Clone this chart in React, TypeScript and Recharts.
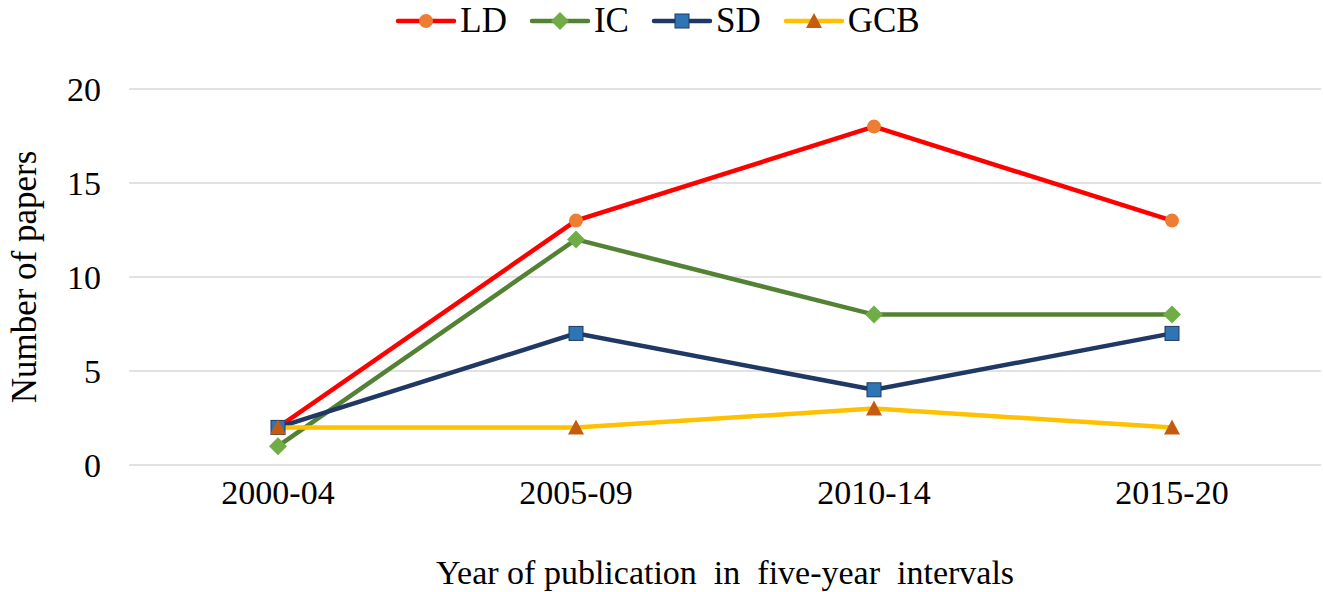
import React from "react";
import { LineChart, Line, XAxis, YAxis, CartesianGrid } from "recharts";

const periods = ["2000-04", "2005-09", "2010-14", "2015-20"];
const ld = [2, 13, 18, 13];
const ic = [1, 12, 8, 8];
const sd = [2, 7, 4, 7];
const gcb = [2, 2, 3, 2];
const yTicks = [0, 5, 10, 15, 20];

const series = [
  { key: "LD", values: ld, stroke: "#FF0000", fill: "#ED7D31", shape: "circle" },
  { key: "IC", values: ic, stroke: "#548235", fill: "#70AD47", shape: "diamond" },
  { key: "SD", values: sd, stroke: "#1F3864", fill: "#2E75B6", shape: "square" },
  { key: "GCB", values: gcb, stroke: "#FFC000", fill: "#C55A11", shape: "triangle" },
];

const data = periods.map((p, i) => {
  const row: Record<string, string | number> = { period: p };
  series.forEach((s) => (row[s.key] = s.values[i]));
  return row;
});

const FONT = '"Liberation Serif", "Times New Roman", serif';

function Marker({ cx, cy, shape, fill, stroke }: { cx: number; cy: number; shape: string; fill: string; stroke?: string }) {
  if (cx == null || cy == null) return null;
  if (shape === "circle") return <circle cx={cx} cy={cy} r={7} fill={fill} />;
  if (shape === "diamond")
    return <polygon points={`${cx},${cy - 9} ${cx + 9},${cy} ${cx},${cy + 9} ${cx - 9},${cy}`} fill={fill} />;
  if (shape === "square")
    return <rect x={cx - 7} y={cy - 7} width={14} height={14} fill={fill} stroke={stroke} strokeWidth={1} />;
  return <polygon points={`${cx},${cy - 8} ${cx + 8},${cy + 7} ${cx - 8},${cy + 7}`} fill={fill} />;
}

export default function App() {
  return (
    <div style={{ position: "absolute", left: 0, top: 0, width: 1323, height: 592, background: "#fff", fontFamily: FONT }}>
      <div
        style={{
          position: "absolute",
          top: 1,
          left: 0,
          width: 1323,
          display: "flex",
          justifyContent: "center",
          alignItems: "center",
          fontSize: 35,
          color: "#000",
          paddingLeft: 14,
          boxSizing: "border-box",
        }}
      >
        {series.map((s) => (
          <div key={s.key} style={{ display: "flex", alignItems: "center", marginRight: 22 }}>
            <svg width={62} height={24}>
              <line x1={3} y1={12} x2={59} y2={12} stroke={s.stroke} strokeWidth={4.5} strokeLinecap="round" />
              <Marker cx={31} cy={12} shape={s.shape} fill={s.fill} stroke={s.stroke} />
            </svg>
            <span style={{ marginLeft: 3 }}>{s.key}</span>
          </div>
        ))}
      </div>
      <LineChart width={1323} height={592} data={data} margin={{ top: 89, right: 2, bottom: 0, left: 0 }}>
        <CartesianGrid vertical={false} stroke="#D9D9D9" strokeWidth={1.5} />
        <XAxis
          dataKey="period"
          height={127}
          padding={{ left: 149, right: 149 }}
          axisLine={false}
          tickLine={false}
          tickMargin={9}
          tick={{ fill: "#000", fontSize: 34, fontFamily: FONT }}
          label={{
            value: "Year of publication\u00A0 in\u00A0 five-year\u00A0 intervals",
            position: "insideBottom",
            offset: 8,
            style: { fill: "#000", fontSize: 34, fontFamily: FONT },
          }}
        />
        <YAxis
          width={129}
          domain={[0, 20]}
          ticks={yTicks}
          axisLine={false}
          tickLine={false}
          tickMargin={22}
          tick={{ fill: "#000", fontSize: 34, fontFamily: FONT }}
          label={{
            value: "Number of papers",
            angle: -90,
            position: "insideLeft",
            offset: 24,
            style: { fill: "#000", fontSize: 35, fontFamily: FONT, textAnchor: "middle" },
          }}
        />
        {series.map((s) => (
          <Line
            key={s.key}
            dataKey={s.key}
            type="linear"
            stroke={s.stroke}
            strokeWidth={4.5}
            isAnimationActive={false}
            dot={(p: any) => (
              <Marker key={`${s.key}-${p.index}`} cx={p.cx} cy={p.cy} shape={s.shape} fill={s.fill} stroke={s.stroke} />
            )}
            activeDot={false}
          />
        ))}
      </LineChart>
    </div>
  );
}
